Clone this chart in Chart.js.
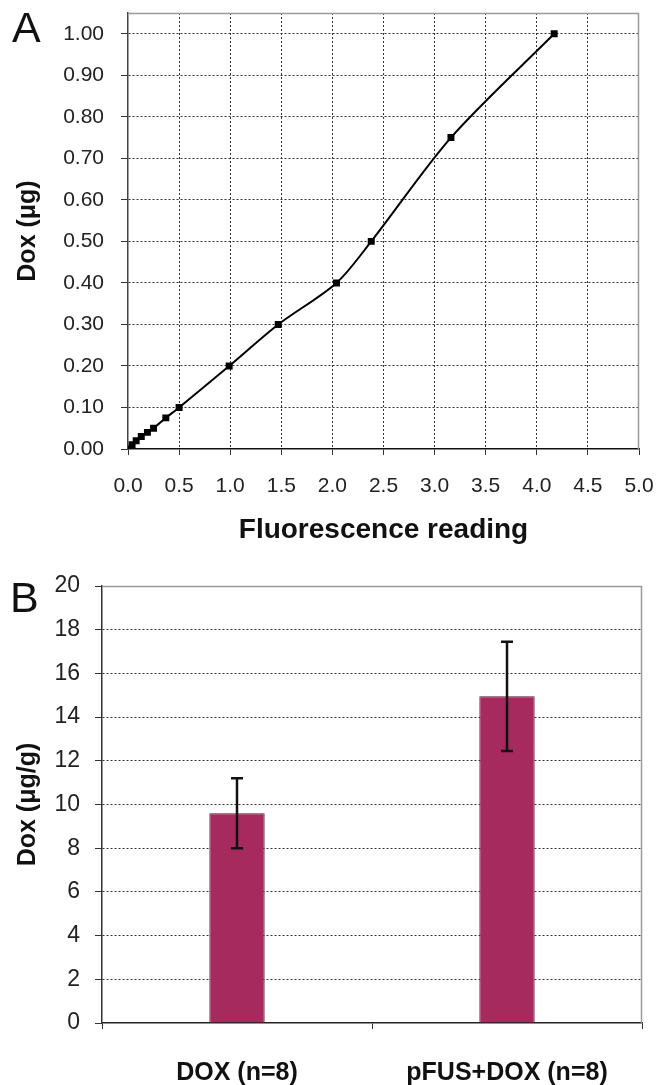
<!DOCTYPE html>
<html>
<head>
<meta charset="utf-8">
<script src="https://cdn.jsdelivr.net/npm/chart.js@4.4.1/dist/chart.umd.min.js"></script>
<style>
  html, body { margin:0; padding:0; background:#fff; }
  body { width:665px; height:1085px; position:relative; overflow:hidden; font-family:"Liberation Sans", Arial, sans-serif; }
  .wrap { position:absolute; left:0; width:665px; }
  .panel { position:absolute; font-family:"Liberation Sans", Arial, sans-serif; font-size:43px; color:#111; line-height:1; }
</style>
</head>
<body>
<div class="wrap" style="top:0;height:565px;"><canvas id="chartA" width="665" height="565"></canvas></div>
<div class="wrap" style="top:565px;height:520px;"><canvas id="chartB" width="665" height="520"></canvas></div>
<div class="panel" style="left:12px;top:6px;">A</div>
<div class="panel" style="left:10px;top:576px;">B</div>
<script>
// ---------- Panel A data ----------
const fluorescence = [0, 0.04, 0.08, 0.13, 0.19, 0.25, 0.37, 0.50, 0.99, 1.47, 2.04, 2.38, 3.16, 4.17];
const doxMicrograms = [0, 0.01, 0.02, 0.03, 0.04, 0.05, 0.075, 0.10, 0.20, 0.30, 0.40, 0.50, 0.75, 1.00];
const xTicksA = [0, 0.5, 1.0, 1.5, 2.0, 2.5, 3.0, 3.5, 4.0, 4.5, 5.0];
const yTicksA = [0, 0.1, 0.2, 0.3, 0.4, 0.5, 0.6, 0.7, 0.8, 0.9, 1.0];

// ---------- Panel B data ----------
const groupsB = ['DOX (n=8)', 'pFUS+DOX (n=8)'];
const valuesB = [9.6, 14.95];
const errorsB = [1.6, 2.5];
const yTicksB = [0, 2, 4, 6, 8, 10, 12, 14, 16, 18, 20];

const FONT = '"Liberation Sans", Arial, sans-serif';
Chart.defaults.font.family = FONT;
Chart.defaults.color = '#222';

const framePlugin = {
  id: 'frame',
  beforeDatasetsDraw(chart) {
    const {ctx, chartArea: a} = chart;
    ctx.save();
    ctx.strokeStyle = '#9a9a9a';
    ctx.lineWidth = 1.5;
    ctx.beginPath();
    ctx.moveTo(a.left, a.top + 0.5);
    ctx.lineTo(a.right - 0.5, a.top + 0.5);
    ctx.lineTo(a.right - 0.5, a.bottom);
    ctx.stroke();
    ctx.restore();
  }
};

const errorBarPlugin = {
  id: 'errorBars',
  afterDatasetsDraw(chart) {
    const meta = chart.getDatasetMeta(0);
    const y = chart.scales.y;
    const ctx = chart.ctx;
    ctx.save();
    ctx.strokeStyle = '#111';
    ctx.lineWidth = 2.5;
    meta.data.forEach((bar, i) => {
      const x = bar.x;
      const yt = y.getPixelForValue(valuesB[i] + errorsB[i]);
      const yb = y.getPixelForValue(valuesB[i] - errorsB[i]);
      ctx.beginPath();
      ctx.moveTo(x, yt); ctx.lineTo(x, yb);
      ctx.moveTo(x - 6, yt); ctx.lineTo(x + 6, yt);
      ctx.moveTo(x - 6, yb); ctx.lineTo(x + 6, yb);
      ctx.stroke();
    });
    ctx.restore();
  }
};

const noPadV = (scale) => { scale.paddingTop = 0; scale.paddingBottom = 0; };
const noPadH = (scale) => { scale.paddingLeft = 0; scale.paddingRight = 0; };

// ---------- Chart A ----------
new Chart(document.getElementById('chartA'), {
  type: 'scatter',
  data: {
    datasets: [{
      data: fluorescence.map((x, i) => ({x: x, y: doxMicrograms[i]})),
      showLine: true,
      borderColor: '#000',
      backgroundColor: '#000',
      borderWidth: 2,
      tension: 0.3,
      pointStyle: 'rect',
      pointRadius: 3.5,
      pointHoverRadius: 3.5
    }]
  },
  options: {
    responsive: false,
    animation: false,
    devicePixelRatio: 1,
    layout: { padding: { top: 13, right: 26, left: 0, bottom: 0 } },
    plugins: { legend: { display: false }, tooltip: { enabled: false } },
    scales: {
      x: {
        type: 'linear', min: 0, max: 5,
        afterBuildTicks: (axis) => { axis.ticks = xTicksA.map(v => ({value: v})); },
        afterFit: (scale) => { scale.height = 116; noPadH(scale); },
        ticks: { font: { size: 21 }, color: '#222', padding: 19, callback: (v) => Number(v).toFixed(1), maxRotation: 0, autoSkip: false },
        grid: {
          color: (c) => (c.tick && (c.tick.value >= 5 || c.tick.value <= 0)) ? 'rgba(0,0,0,0)' : '#333',
          tickColor: '#333', tickLength: 6, lineWidth: 1
        },
        border: { display: true, color: '#111', width: 1.5, dash: [2, 2] },
        title: { display: true, text: 'Fluorescence reading', color: '#111', font: { size: 28, weight: 'bold' }, padding: { top: 0, bottom: 18 } }
      },
      y: {
        type: 'linear', min: 0, max: 1.05,
        afterBuildTicks: (axis) => { axis.ticks = yTicksA.map(v => ({value: v})); },
        afterFit: (scale) => { scale.width = 128; noPadV(scale); },
        ticks: { font: { size: 21 }, color: '#222', padding: 17, callback: (v) => Number(v).toFixed(2), autoSkip: false },
        grid: {
          color: (c) => (c.tick && c.tick.value <= 0) ? 'rgba(0,0,0,0)' : '#333',
          tickColor: '#333', tickLength: 7, lineWidth: 1
        },
        border: { display: true, color: '#444', width: 1.5, dash: [2, 2] },
        title: { display: true, text: 'Dox (μg)', color: '#111', font: { size: 25, weight: 'bold' }, padding: { top: 13, bottom: 0 } }
      }
    }
  },
  plugins: [framePlugin]
});

// ---------- Chart B ----------
new Chart(document.getElementById('chartB'), {
  type: 'bar',
  data: {
    labels: groupsB,
    datasets: [{
      data: valuesB,
      backgroundColor: '#a62a5e',
      borderColor: '#5e1234',
      borderWidth: 1,
      barPercentage: 0.205,
      categoryPercentage: 1.0
    }]
  },
  options: {
    responsive: false,
    animation: false,
    devicePixelRatio: 1,
    layout: { padding: { top: 21, right: 23, left: 0, bottom: 0 } },
    plugins: { legend: { display: false }, tooltip: { enabled: false } },
    scales: {
      x: {
        afterFit: (scale) => { scale.height = 62; noPadH(scale); },
        ticks: { font: { size: 25, weight: 'bold' }, color: '#111', padding: 29, maxRotation: 0, autoSkip: false },
        grid: { offset: true, drawOnChartArea: false, tickColor: '#333', tickLength: 6, color: '#333' },
        border: { display: true, color: '#222', width: 1.5 }
      },
      y: {
        min: 0, max: 20,
        afterBuildTicks: (axis) => { axis.ticks = yTicksB.map(v => ({value: v})); },
        afterFit: (scale) => { scale.width = 102; noPadV(scale); },
        ticks: { font: { size: 23 }, color: '#222', padding: 15, autoSkip: false },
        grid: {
          color: (c) => (c.tick && (c.tick.value >= 20 || c.tick.value <= 0)) ? 'rgba(0,0,0,0)' : '#333',
          tickColor: '#333', tickLength: 7, lineWidth: 1
        },
        border: { display: true, color: '#333', width: 1.5, dash: [2, 2] },
        title: { display: true, text: 'Dox (μg/g)', color: '#111', font: { size: 25, weight: 'bold' }, padding: { top: 13, bottom: 0 } }
      }
    }
  },
  plugins: [framePlugin, errorBarPlugin]
});
</script>
</body>
</html>
